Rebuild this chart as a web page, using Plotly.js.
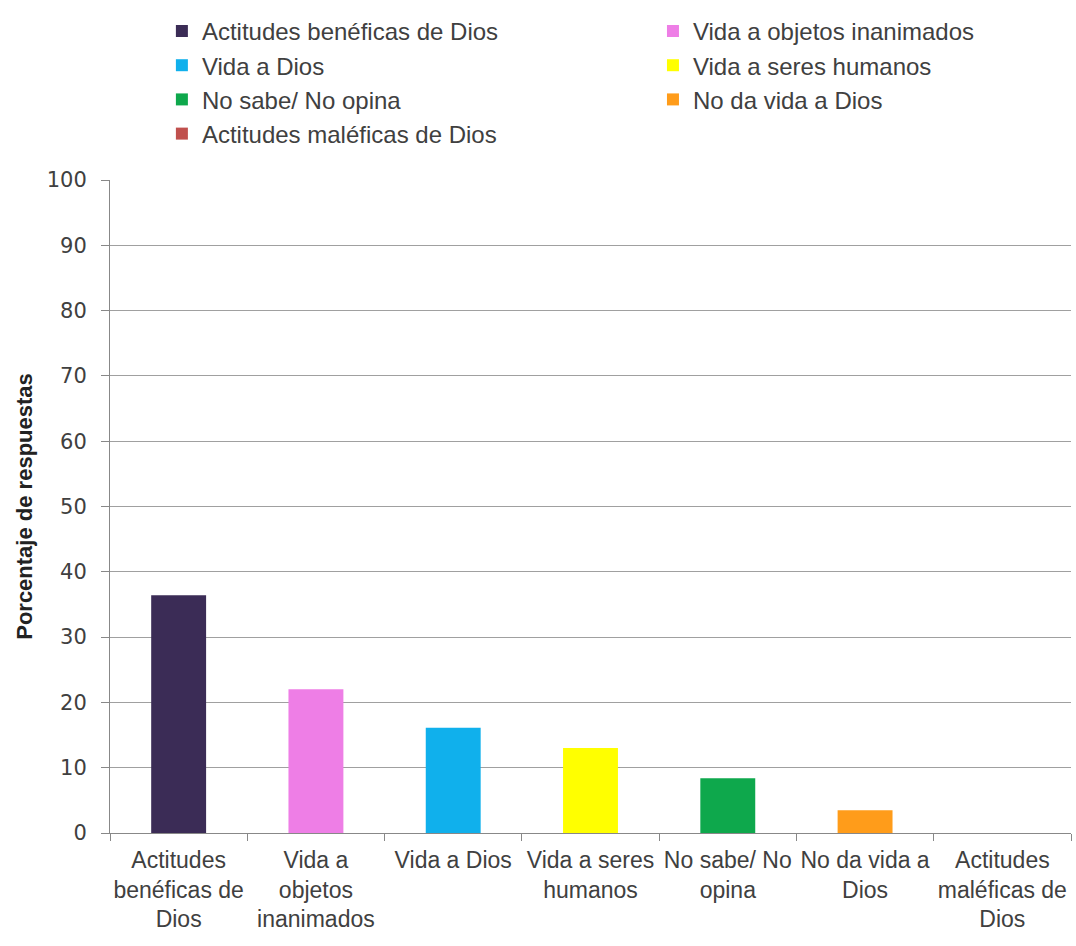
<!DOCTYPE html>
<html>
<head>
<meta charset="utf-8">
<script src="https://cdn.plot.ly/plotly-3.0.1.min.js"></script>
<style>html,body{margin:0;padding:0;background:#fff;}#chart{width:1076px;height:946px;}</style>
</head>
<body>
<div id="chart"></div>
<script>
const categories = [
  "Actitudes benéficas de Dios",
  "Vida a objetos inanimados",
  "Vida a Dios",
  "Vida a seres humanos",
  "No sabe/ No opina",
  "No da vida a Dios",
  "Actitudes maléficas de Dios"
];
const tickLabels = [
  "Actitudes<br>benéficas de<br>Dios",
  "Vida a<br>objetos<br>inanimados",
  "Vida a Dios",
  "Vida a seres<br>humanos",
  "No sabe/ No<br>opina",
  "No da vida a<br>Dios",
  "Actitudes<br>maléficas de<br>Dios"
];
const values = [36.4, 22.0, 16.1, 13.0, 8.4, 3.5, 0];
const colors = ["#3b2c56", "#ee7ee6", "#10b0ec", "#ffff00", "#0ea84c", "#ff9c1a", "#c0504d"];
const legendGroup = ["legend", "legend2", "legend", "legend2", "legend", "legend2", "legend"];
const yTicks = [0,10,20,30,40,50,60,70,80,90,100];

const sans = "Liberation Sans, Arial, sans-serif";

const traces = categories.map((c, i) => ({
  type: "bar",
  name: c,
  x: [c],
  y: [values[i]],
  width: 0.4,
  legend: legendGroup[i],
  marker: {color: colors[i], line: {width: 0}},
  hoverinfo: "x+y"
}));

const legendBase = {
  orientation: "v",
  yanchor: "top",
  xanchor: "left",
  y: 1.262,
  font: {family: sans, size: 24, color: "#404040"},
  traceorder: "normal",
  bgcolor: "rgba(0,0,0,0)",
  borderwidth: 0
};

const layout = {
  width: 1076,
  height: 946,
  margin: {l: 110, r: 5, t: 180, b: 113},
  paper_bgcolor: "#fff",
  plot_bgcolor: "#fff",
  barmode: "overlay",
  showlegend: true,
  legend: Object.assign({}, legendBase, {x: 0.054}),
  legend2: Object.assign({}, legendBase, {x: 0.565}),
  xaxis: {
    type: "category",
    categoryorder: "array",
    categoryarray: categories,
    tickmode: "array",
    tickvals: categories,
    ticktext: tickLabels,
    tickson: "boundaries",
    ticks: "outside",
    ticklen: 7,
    tickcolor: "#888",
    showline: true,
    linecolor: "#888",
    linewidth: 1,
    showgrid: false,
    tickfont: {family: sans, size: 23, color: "#404040"},
    tickangle: 0,
    ticklabelstandoff: 6,
    automargin: false
  },
  yaxis: {
    range: [0, 100],
    tickmode: "array",
    tickvals: yTicks,
    ticks: "outside",
    ticklen: 8,
    tickcolor: "#888",
    showline: true,
    linecolor: "#888",
    linewidth: 1,
    showgrid: true,
    gridcolor: "#a0a0a0",
    gridwidth: 1,
    zeroline: false,
    tickfont: {family: "DejaVu Sans, sans-serif", size: 21, color: "#404040"},
    ticklabelstandoff: 10,
    title: {text: "Porcentaje de respuestas", font: {family: sans, size: 22, color: "#222", weight: "bold"}, standoff: 8},
    automargin: false
  }
};

Plotly.newPlot("chart", traces, layout, {displayModeBar: false});
</script>
</body>
</html>
